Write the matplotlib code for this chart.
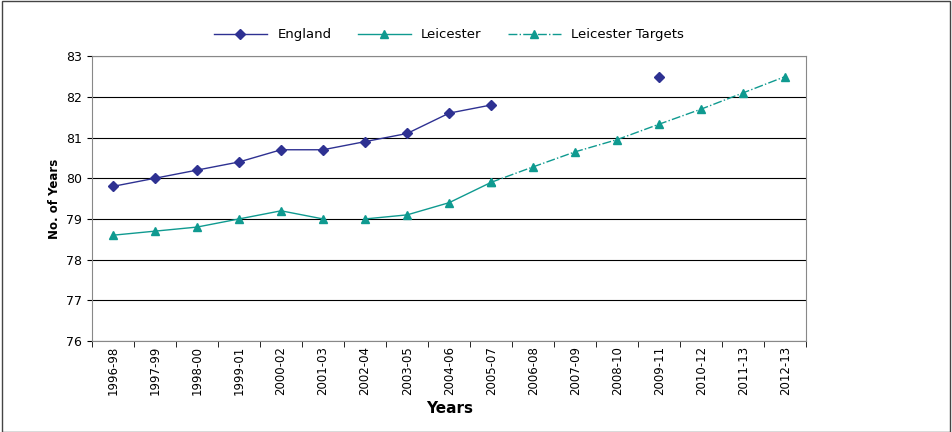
import matplotlib.pyplot as plt
import numpy as np

years = ["1996-98", "1997-99", "1998-00", "1999-01", "2000-02", "2001-03", "2002-04",
         "2003-05", "2004-06", "2005-07", "2006-08", "2007-09", "2008-10", "2009-11",
         "2010-12", "2011-13", "2012-13"]
england = [79.8, 80.0, 80.2, 80.4, 80.7, 80.7, 80.9, 81.1, 81.6, 81.8,
           np.nan, np.nan, np.nan, 82.5, np.nan, np.nan, np.nan]
leicester = [78.6, 78.7, 78.8, 79.0, 79.2, 79.0, 79.0, 79.1, 79.4, 79.9,
             np.nan, np.nan, np.nan, np.nan, np.nan, np.nan, np.nan]
targets = [np.nan] * 9 + [79.9, 80.28, 80.65, 80.95, 81.33, 81.7, 82.1, 82.5]

navy = "#2e3192"
teal = "#0f9a90"

fig = plt.figure(figsize=(9.52, 4.32), dpi=100)
ax = fig.add_axes([0.0966, 0.2106, 0.7504, 0.6594])
x = np.arange(len(years))
# line breaks between 2001-03 and 2002-04, so draw it in two pieces
lc = np.array(leicester)
ax.plot(x, england, color=navy, marker="D", markersize=5, lw=1, label="England")
ax.plot(x[:6], lc[:6], color=teal, marker="^", markersize=6, lw=1, label="Leicester")
ax.plot(x[6:], lc[6:], color=teal, marker="^", markersize=6, lw=1)
ax.plot(x, targets, color=teal, marker="^", markersize=6, lw=1, ls="-.", label="Leicester Targets")

ax.set_xlim(-0.5, len(years) - 0.5)
ax.set_ylim(76, 83)
ax.set_yticks(range(76, 84))
ax.set_xticks(x)
ax.set_xticklabels(years, rotation=90, fontsize=8.5)
ax.tick_params(axis="y", labelsize=9)
ax.set_xticks(np.arange(-0.5, len(years)), minor=True)
ax.tick_params(axis="x", which="major", length=0)
ax.tick_params(axis="x", which="minor", length=4)
ax.grid(axis="y", color="black", lw=0.8)
ax.set_axisbelow(True)
for s in ax.spines.values():
    s.set_color("#888888")
ax.set_ylabel("No. of Years", fontsize=8.5, fontweight="bold")
ax.set_xlabel("Years", fontsize=11, fontweight="bold")
ax.legend(loc="lower center", bbox_to_anchor=(0.5, 1.01), ncol=3, frameon=False,
          fontsize=9.5, handlelength=4)

fig.patches.append(plt.Rectangle((0.002, 0.0), 0.996, 0.997, transform=fig.transFigure,
                                 fill=False, edgecolor="#444444", lw=1))
fig.savefig("out.png", dpi=100)
